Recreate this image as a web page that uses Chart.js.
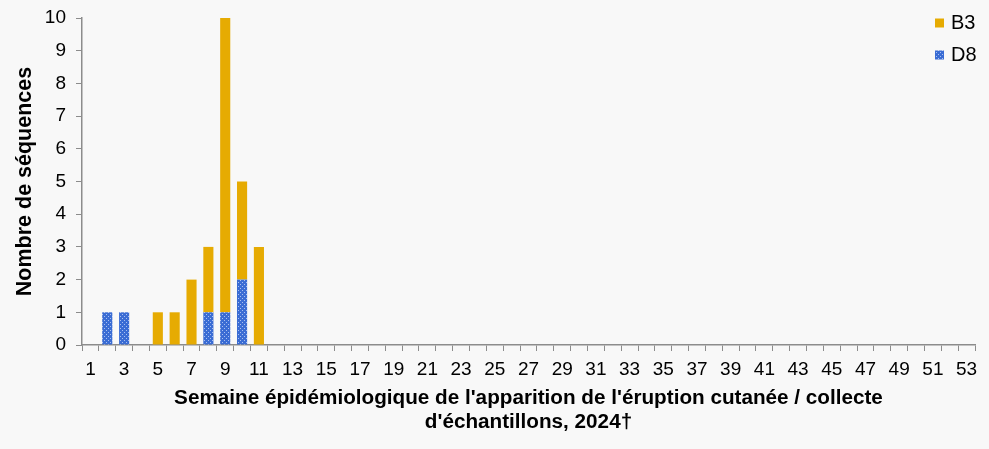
<!DOCTYPE html>
<html>
<head>
<meta charset="utf-8">
<script src="https://cdn.jsdelivr.net/npm/chart.js@4.4.1/dist/chart.umd.min.js"></script>
<style>
  html, body { margin: 0; padding: 0; background: #f8f8f8; }
  #wrap { width: 989px; height: 449px; position: relative; }
</style>
</head>
<body>
<div id="wrap"><canvas id="chart" width="989" height="449"></canvas></div>
<script>
// data
var weeks = [];
for (var w = 1; w <= 53; w++) weeks.push(String(w));
var d8Values = [0, 1, 1, 0, 0, 0, 0, 1, 1, 2, 0];
var b3Values = [0, 0, 0, 0, 1, 1, 2, 2, 9, 3, 3];
var seriesNames = ['D8', 'B3'];
var yTitle = 'Nombre de séquences';
var xTitle = ["Semaine épidémiologique de l'apparition de l'éruption cutanée / collecte", "d'échantillons, 2024†"];

var gold = '#e6ab02';
var blue = '#3a6cd4';
var fontFamily = '"Liberation Sans", Arial, sans-serif';

// dotted blue fill for D8
function makePattern() {
    var c = document.createElement('canvas');
    c.width = 4;
    c.height = 4;
    var x = c.getContext('2d');
    x.fillStyle = blue;
    x.fillRect(0, 0, 4, 4);
    x.fillStyle = '#a9c0f0';
    x.fillRect(0, 0, 1, 1);
    x.fillRect(2, 2, 1, 1);
    return x.createPattern(c, 'repeat');
}
var d8Fill = makePattern();

// legend drawn top right, B3 above D8
var legendPlugin = {
    id: 'sideLegend',
    afterDraw: function (chart) {
        var ctx = chart.ctx;
        var items = [
            { label: seriesNames[1], fill: gold, y: 22.5 },
            { label: seriesNames[0], fill: d8Fill, y: 54.5 }
        ];
        ctx.save();
        ctx.font = '20px ' + fontFamily;
        ctx.textBaseline = 'middle';
        items.forEach(function (it) {
            ctx.fillStyle = it.fill;
            ctx.fillRect(935, it.y - 4, 9, 9);
            ctx.fillStyle = '#000';
            ctx.fillText(it.label, 951, it.y + 1);
        });
        ctx.restore();
    }
};

var bgPlugin = {
    id: 'bg',
    beforeDraw: function (chart) {
        var ctx = chart.ctx;
        ctx.save();
        ctx.fillStyle = '#f8f8f8';
        ctx.fillRect(0, 0, chart.width, chart.height);
        ctx.restore();
    }
};

var tickFont = { family: fontFamily, size: 19 };

var chart = new Chart(document.getElementById('chart'), {
    type: 'bar',
    data: {
        labels: weeks,
        datasets: [
            {
                label: seriesNames[0],
                data: d8Values,
                backgroundColor: d8Fill,
                barPercentage: 0.6,
                categoryPercentage: 1.0
            },
            {
                label: seriesNames[1],
                data: b3Values,
                backgroundColor: gold,
                barPercentage: 0.6,
                categoryPercentage: 1.0
            }
        ]
    },
    options: {
        responsive: false,
        animation: false,
        devicePixelRatio: 1,
        layout: { padding: { top: 18, right: 14, left: 0, bottom: 15 } },
        plugins: {
            legend: { display: false },
            tooltip: { enabled: false }
        },
        scales: {
            x: {
                stacked: true,
                offset: true,
                grid: {
                    offset: true,
                    drawOnChartArea: false,
                    drawTicks: true,
                    tickLength: 6,
                    color: '#8c8c8c'
                },
                border: { color: '#8c8c8c', width: 1.5 },
                ticks: {
                    autoSkip: false,
                    maxRotation: 0,
                    minRotation: 0,
                    color: '#000',
                    font: tickFont,
                    padding: 7,
                    callback: function (v, i) {
                        return i % 2 === 0 ? weeks[i] : '';
                    }
                },
                title: {
                    display: true,
                    text: xTitle,
                    color: '#000',
                    font: { family: fontFamily, size: 20.7, weight: 'bold', lineHeight: 1.16 },
                    padding: { top: 0, bottom: 0 }
                },
                afterFit: function (s) { s.height = 89; }
            },
            y: {
                stacked: true,
                min: 0,
                max: 10,
                grid: {
                    drawOnChartArea: false,
                    drawTicks: true,
                    tickLength: 6,
                    color: '#8c8c8c'
                },
                border: { color: '#8c8c8c', width: 1.5 },
                ticks: {
                    stepSize: 1,
                    color: '#000',
                    font: tickFont,
                    padding: 10
                },
                title: {
                    display: true,
                    text: yTitle,
                    color: '#000',
                    font: { family: fontFamily, size: 21.5, weight: 'bold', lineHeight: 1.2 },
                    padding: { top: 12, bottom: 0 }
                },
                afterFit: function (s) {
                    s.width = 82;
                    s.paddingTop = 0;
                    s.paddingBottom = 0;
                }
            }
        }
    },
    plugins: [bgPlugin, legendPlugin]
});
</script>
</body>
</html>
